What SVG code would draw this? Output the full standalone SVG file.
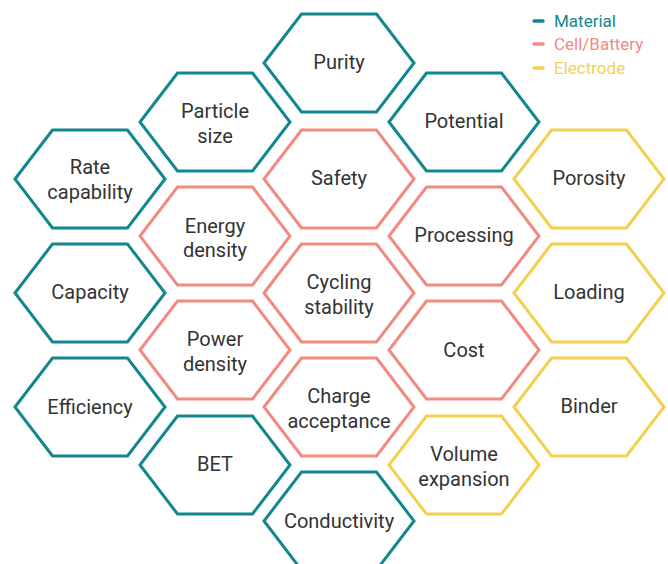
<svg xmlns="http://www.w3.org/2000/svg" width="668" height="564" viewBox="0 0 668 564">
<defs>
<style>
.hex{fill:#fff;stroke-width:3;stroke-linejoin:miter}
.m{stroke:#12878f}
.c{stroke:#f28a80}
.e{stroke:#f3d04f}
.t{font-family:Roboto,"Liberation Sans",sans-serif;font-size:20px;fill:#333;text-anchor:middle}
.lg{font-family:Roboto,"Liberation Sans",sans-serif;font-size:17px}
</style>
<polygon id="hx" points="-75,0 -37.5,-49 37.5,-49 75,0 37.5,49 -37.5,49"/>
</defs>
<rect width="668" height="564" fill="#fff"/>
<g id="legend">
<line x1="534" y1="21" x2="543" y2="21" stroke="#12878f" stroke-width="3.5" stroke-linecap="round"/>
<text class="lg" x="554" y="27" fill="#12878f">Material</text>
<line x1="534" y1="44" x2="543" y2="44" stroke="#f28a80" stroke-width="3.5" stroke-linecap="round"/>
<text class="lg" x="554" y="50" fill="#f28a80">Cell/Battery</text>
<line x1="534" y1="68" x2="543" y2="68" stroke="#f3d04f" stroke-width="3.5" stroke-linecap="round"/>
<text class="lg" x="554" y="74" fill="#f3d04f">Electrode</text>
</g>
<g id="connectors"></g>
<g id="purity" transform="translate(339,63)"><use href="#hx" class="hex m"/><text class="t" y="6">Purity</text></g>
<g id="particle-size" transform="translate(215,122)"><use href="#hx" class="hex m"/><text class="t" y="-4">Particle</text><text class="t" y="21">size</text></g>
<g id="potential" transform="translate(464,122)"><use href="#hx" class="hex m"/><text class="t" y="6">Potential</text></g>
<g id="rate-capability" transform="translate(90,179)"><use href="#hx" class="hex m"/><text class="t" y="-5">Rate</text><text class="t" y="20">capability</text></g>
<g id="safety" transform="translate(339,179)"><use href="#hx" class="hex c"/><text class="t" y="6">Safety</text></g>
<g id="porosity" transform="translate(589,179)"><use href="#hx" class="hex e"/><text class="t" y="6">Porosity</text></g>
<g id="energy-density" transform="translate(215,236)"><use href="#hx" class="hex c"/><text class="t" y="-3">Energy</text><text class="t" y="21">density</text></g>
<g id="processing" transform="translate(464,236)"><use href="#hx" class="hex c"/><text class="t" y="6">Processing</text></g>
<g id="capacity" transform="translate(90,293)"><use href="#hx" class="hex m"/><text class="t" y="6">Capacity</text></g>
<g id="cycling-stability" transform="translate(339,293)"><use href="#hx" class="hex c"/><text class="t" y="-4">Cycling</text><text class="t" y="21">stability</text></g>
<g id="loading" transform="translate(589,293)"><use href="#hx" class="hex e"/><text class="t" y="6">Loading</text></g>
<g id="power-density" transform="translate(215,350)"><use href="#hx" class="hex c"/><text class="t" y="-4">Power</text><text class="t" y="21">density</text></g>
<g id="cost" transform="translate(464,350)"><use href="#hx" class="hex c"/><text class="t" y="7">Cost</text></g>
<g id="efficiency" transform="translate(90,407)"><use href="#hx" class="hex m"/><text class="t" y="7">Efficiency</text></g>
<g id="charge-acceptance" transform="translate(339,407)"><use href="#hx" class="hex c"/><text class="t" y="-4">Charge</text><text class="t" y="21">acceptance</text></g>
<g id="binder" transform="translate(589,407)"><use href="#hx" class="hex e"/><text class="t" y="6">Binder</text></g>
<g id="bet" transform="translate(215,465)"><use href="#hx" class="hex m"/><text class="t" y="6">BET</text></g>
<g id="volume-expansion" transform="translate(464,465)"><use href="#hx" class="hex e"/><text class="t" y="-4">Volume</text><text class="t" y="21">expansion</text></g>
<g id="conductivity" transform="translate(339,521)"><use href="#hx" class="hex m"/><text class="t" y="7">Conductivity</text></g>
</svg>
